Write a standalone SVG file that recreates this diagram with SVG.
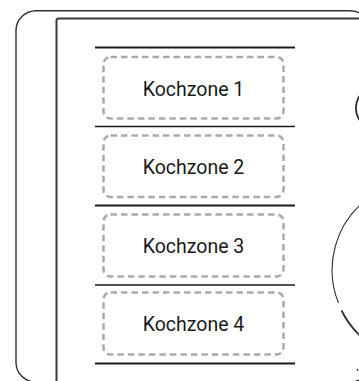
<svg xmlns="http://www.w3.org/2000/svg" width="359" height="381" viewBox="0 0 359 381">
<style>
.frame{fill:none;stroke:#333;stroke-width:1.4}
.inner{fill:none;stroke:#3a3a3a;stroke-width:2}
.sep-thick{stroke:#1a1a1a;stroke-width:2.2}
.sep-thin{stroke:#1a1a1a;stroke-width:1.3}
.zone rect{fill:none;stroke:#aaaaaa;stroke-width:2.5;stroke-dasharray:6.5 4}
.zone text{font-family:Roboto,"Liberation Sans",sans-serif;font-size:19.5px;fill:#1a1a1a;text-anchor:middle}
.arc{fill:none;stroke:#333}
</style>
<rect class="frame" x="16" y="10.7" width="354" height="371.5" rx="20"/>
<rect class="inner" x="56.5" y="18.5" width="320" height="380" rx="2"/>
<g id="connectors">
<line class="sep-thick" x1="95" y1="47.5" x2="295" y2="47.5"/>
<line class="sep-thin" x1="95" y1="126.5" x2="295" y2="126.5"/>
<line class="sep-thick" x1="95" y1="205.5" x2="295" y2="205.5"/>
<line class="sep-thin" x1="95" y1="285" x2="295" y2="285"/>
<line class="sep-thick" x1="95" y1="363.5" x2="295" y2="363.5"/>
</g>
<g id="zone1" class="zone"><rect x="103.5" y="57" width="180" height="61.5" rx="7"/><text x="193.5" y="95.5">Kochzone 1</text></g>
<g id="zone2" class="zone"><rect x="103.5" y="135.5" width="180" height="61.5" rx="7"/><text x="193.5" y="174">Kochzone 2</text></g>
<g id="zone3" class="zone"><rect x="103.5" y="214.5" width="180" height="62" rx="7"/><text x="193.5" y="253">Kochzone 3</text></g>
<g id="zone4" class="zone"><rect x="103.5" y="292.5" width="180" height="62" rx="7"/><text x="193.5" y="331">Kochzone 4</text></g>
<g id="knob-large">
<path class="arc" stroke-width="1.1" d="M 368 198.5 A 89 89 0 0 0 338.5 303"/>
<path class="arc" stroke-width="1.8" d="M 341.5 310.5 A 89 89 0 0 0 375 347"/>
</g>
<g id="knob-small">
<path class="arc" stroke-width="1.8" d="M 359.5 96 A 22 22 0 0 0 359.5 120"/>
</g>
<line class="arc" stroke-width="1.2" x1="357" y1="369" x2="358" y2="371"/>
</svg>
